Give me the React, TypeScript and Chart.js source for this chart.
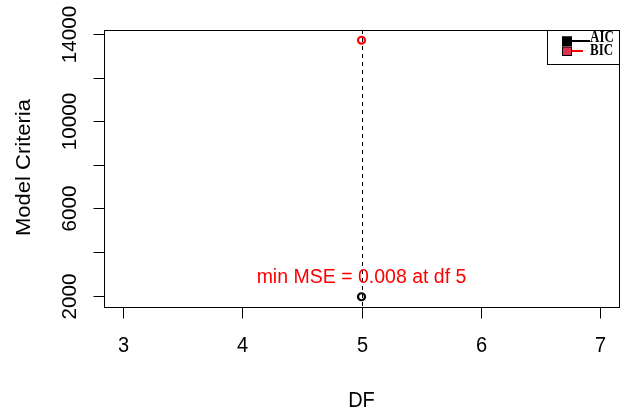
import React, { useEffect, useRef } from "react";
import { Chart, registerables } from "chart.js";

Chart.register(...registerables);

const seriesNames = ["AIC", "BIC"];
const seriesColors = ["#000000", "#FF0000"];
const legendFills = ["#000000", "#E03050"];
const dfValues = [5, 5];
const criteriaValues = [1945, 13725];
const xTickValues = [3, 4, 5, 6, 7];
const yTickValues = [2000, 4000, 6000, 8000, 10000, 12000, 14000];
const yTickLabels = ["2000", "", "6000", "", "10000", "", "14000"];
const xRange = [3, 7];
const annotation = "min MSE = 0.008 at df 5";
const annotationY = 2860;
const bestDf = 5;

function ext(lo: number, hi: number): [number, number] {
  const d = (hi - lo) * 0.04;
  return [lo - d, hi + d];
}

export default function App() {
  const ref = useRef<HTMLCanvasElement | null>(null);
  useEffect(() => {
    document.body.style.margin = "0";
    const canvas = ref.current;
    if (!canvas) return;
    const [xmin, xmax] = ext(xRange[0], xRange[1]);
    const [ymin, ymax] = ext(Math.min(...criteriaValues), Math.max(...criteriaValues));
    const sans = "'Liberation Sans', Arial, sans-serif";
    const serif = "'Liberation Serif', 'Times New Roman', serif";

    const txt = (
      ctx: CanvasRenderingContext2D,
      s: string,
      x: number,
      y: number,
      font: string,
      color: string,
      rot = false,
      sy = 1,
      align: CanvasTextAlign = "center"
    ) => {
      ctx.save();
      ctx.translate(x, y);
      ctx.scale(1, sy);
      if (rot) ctx.rotate(-Math.PI / 2);
      ctx.font = font;
      ctx.fillStyle = color;
      ctx.textAlign = align;
      ctx.textBaseline = "middle";
      ctx.fillText(s, 0, 0);
      ctx.restore();
    };

    const rPlot = {
      id: "rplot",
      beforeDatasetsDraw(chart: any) {
        const ctx = chart.ctx as CanvasRenderingContext2D;
        const a = chart.chartArea;
        const xs = chart.scales.x;
        const px = Math.round(xs.getPixelForValue(bestDf)) + 0.5;
        ctx.save();
        ctx.strokeStyle = "#000";
        ctx.lineWidth = 1;
        ctx.setLineDash([4, 4]);
        ctx.beginPath();
        ctx.moveTo(px, a.top);
        ctx.lineTo(px, a.bottom);
        ctx.stroke();
        ctx.restore();
      },
      afterDraw(chart: any) {
        const ctx = chart.ctx as CanvasRenderingContext2D;
        const a = chart.chartArea;
        const xs = chart.scales.x;
        const ys = chart.scales.y;
        ctx.save();
        ctx.strokeStyle = "#000";
        ctx.lineWidth = 1;
        ctx.setLineDash([]);
        const L = Math.round(a.left) + 0.5;
        const R = Math.round(a.right) + 0.5;
        const T = Math.round(a.top) + 0.5;
        const B = Math.round(a.bottom) + 0.5;
        ctx.strokeRect(L, T, R - L, B - T);
        // x axis
        xTickValues.forEach((v) => {
          const p = Math.round(xs.getPixelForValue(v)) + 0.5;
          ctx.beginPath();
          ctx.moveTo(p, B);
          ctx.lineTo(p, B + 11);
          ctx.stroke();
          txt(ctx, String(v), p, 346, "20px " + sans, "#000", false, 1.08);
        });
        // y axis
        yTickValues.forEach((v, i) => {
          const p = Math.round(ys.getPixelForValue(v)) + 0.5;
          ctx.beginPath();
          ctx.moveTo(L, p);
          ctx.lineTo(L - 11, p);
          ctx.stroke();
          if (yTickLabels[i]) txt(ctx, yTickLabels[i], 70, p, "20px " + sans, "#000", true, 1.03);
        });
        txt(ctx, "DF", (a.left + a.right) / 2, 401, "20px " + sans, "#000", false, 1.08);
        txt(ctx, "Model Criteria", 24, (a.top + a.bottom) / 2 - 1, "20px " + sans, "#000", true, 1.1);
        // annotation
        txt(ctx, annotation, xs.getPixelForValue(bestDf), ys.getPixelForValue(annotationY), "19.5px " + sans, "#FF0000", false, 1.08);
        // legend
        const lx0 = 547.5, ly0 = T, lx1 = R, ly1 = 64.5;
        ctx.strokeRect(lx0, ly0, lx1 - lx0, ly1 - ly0);
        const rows = [41, 51];
        seriesNames.forEach((n, i) => {
          const yy = rows[i];
          ctx.strokeStyle = seriesColors[i];
          ctx.lineWidth = 2;
          ctx.beginPath();
          ctx.moveTo(567, yy);
          ctx.lineTo(i === 0 ? 590 : 583, yy);
          ctx.stroke();
        });
        seriesNames.forEach((n, i) => {
          const yy = rows[i];
          ctx.fillStyle = legendFills[i];
          ctx.fillRect(562, yy - 4.5, 10, 9.5);
          ctx.strokeStyle = "#000";
          ctx.lineWidth = 1;
          ctx.strokeRect(562.5, yy - 4, 9, 8.5);
          txt(ctx, n, 590, i === 0 ? 38 : 51, "bold 13px " + serif, "#000", false, 1.25, "left");
        });
        ctx.restore();
      },
    };

    const chart = new Chart(canvas, {
      type: "scatter",
      data: {
        datasets: seriesNames.map((n, i) => ({
          label: n,
          data: [{ x: dfValues[i], y: criteriaValues[i] }],
          borderColor: seriesColors[i],
          backgroundColor: "rgba(0,0,0,0)",
          pointRadius: 3.5,
          borderWidth: 2.2,
          pointStyle: "circle",
        })),
      },
      options: {
        animation: false,
        responsive: false,
        devicePixelRatio: 1,
        layout: { padding: { left: 104, top: 30, right: 10, bottom: 111 } },
        plugins: { legend: { display: false }, tooltip: { enabled: false } },
        scales: {
          x: { type: "linear", min: xmin, max: xmax, display: false },
          y: { type: "linear", min: ymin, max: ymax, display: false },
        },
      },
      plugins: [rPlot],
    });
    return () => chart.destroy();
  }, []);
  return <canvas ref={ref} width={629} height={418} style={{ display: "block" }} />;
}
